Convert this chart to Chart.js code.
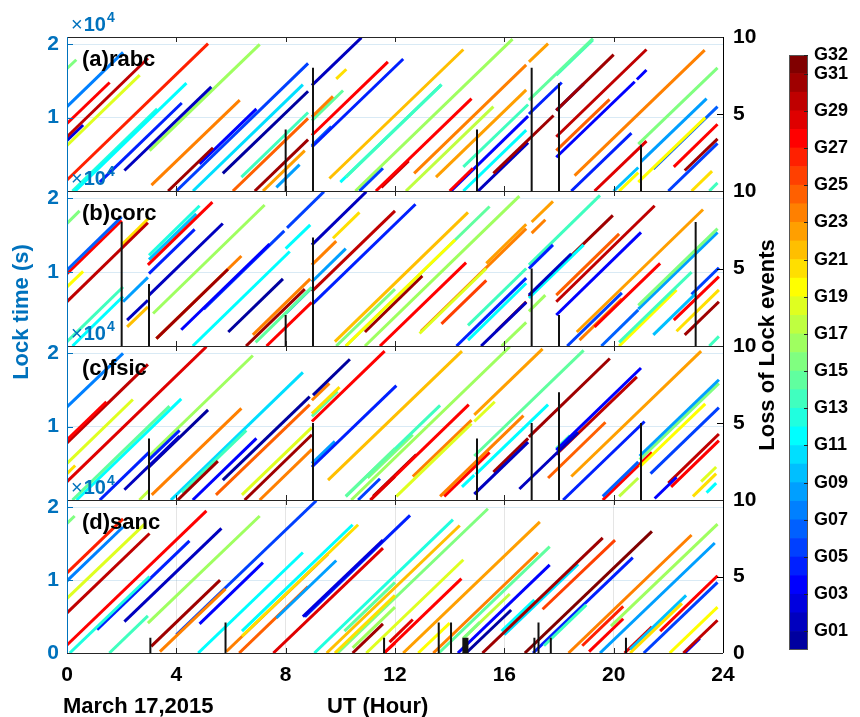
<!DOCTYPE html>
<html>
<head>
<meta charset="utf-8">
<script src="https://cdn.jsdelivr.net/npm/chart.js@4.4.1/dist/chart.umd.min.js"></script>
<style>
  body { margin: 0; background: #fff; }
  #wrap { position: relative; width: 860px; height: 717px; background: #fff; }
  #wrap canvas { position: absolute; left: 0; top: 0; }
</style>
</head>
<body>
<div id="wrap">
  <canvas id="pa" width="860" height="717"></canvas>
  <canvas id="pb" width="860" height="717"></canvas>
  <canvas id="pc" width="860" height="717"></canvas>
  <canvas id="pd" width="860" height="717"></canvas>
  <canvas id="cb" width="860" height="717"></canvas>
</div>
<script>
// station names and axis ticks
const stations = ['(a)rabc', '(b)corc', '(c)fsic', '(d)sanc'];
const hourTicks = [0, 4, 8, 12, 16, 20, 24];
const lockTicks = [0, 1, 2];          // x10^4 s
const eventTicks = [0, 5, 10];
const prnTicks = [1, 3, 5, 7, 9, 11, 13, 15, 17, 19, 21, 23, 25, 27, 29, 31, 32];

// lock segments: [prn, startHour, startLock(x1e4 s), endHour, endLock]
const segA = [
  [16,0,1.67,0.34,1.79],[8,0,1.15,2.05,1.89],[28,0,0.92,1.56,1.48],[30,0,0.74,2.96,1.81],
  [3,0,0.69,0.59,0.9],[19,0,0.62,2.66,1.58],[27,0,0.15,5.16,2.01],[12,0.3,0,4.37,1.47],
  [13,0.2,0,3.3,1.12],[5,1.2,0.12,4.2,1.2],[2,2.1,0.28,5.28,1.42],[17,3.02,0.55,7.05,2.0],
  [24,3.09,0.08,6.32,1.24],[31,3.7,0,5.34,0.59],[6,4.0,0,8.82,1.74],[11,4.61,0,8.63,1.45],
  [4,4.85,0.37,6.93,1.12],[1,5.7,0.24,8.82,1.36],[14,6.38,0.19,8.82,1.07],[25,6.07,0,8.82,0.99],
  [31,6.87,0,8.82,0.7],[23,7.17,0,8.7,0.55],[9,7.66,0.05,8.51,0.36],[2,8.96,1.44,10.77,2.09],
  [5,8.96,0.6,12.3,1.8],[28,8.96,0.76,11.74,1.76],[24,8.96,1.01,9.73,1.29],[21,9.85,1.53,10.22,1.66],
  [15,8.96,0.96,10.1,1.37],[7,8.96,0.62,9.67,0.88],[22,9.6,0.17,14.5,1.93],[14,10.2,0.19,13.7,1.45],
  [6,10.7,0,11.56,0.31],[28,11.3,0,14.8,1.26],[30,11.5,0.05,12.5,0.41],[12,10.0,0.12,13.7,1.45],
  [17,10.55,0,16.3,2.07],[18,12.4,0,15.6,1.15],[24,12.7,0.24,16.8,1.72],[23,13.5,0.19,16.8,1.38],
  [28,14.0,0,14.85,0.31],[4,14.05,0,16.87,1.02],[12,14.5,0,16.8,0.83],[14,14.5,0.33,16.87,1.18],
  [31,15.6,0.24,17.8,1.03],[2,15.04,0,16.87,0.66],[5,16.9,1.05,18.1,1.48],[15,16.9,1.24,19.24,2.08],
  [23,16.9,1.76,17.6,2.01],[14,17.9,1.58,19.24,2.06],[31,17.9,1.1,20.0,1.86],[30,17.9,0.74,21.2,1.93],
  [2,17.9,1.1,18.9,1.46],[25,17.9,0.55,19.85,1.25],[4,17.9,0.46,20.77,1.49],[4,20.85,1.52,21.2,1.65],
  [24,18.57,0.21,23.33,1.92],[5,18.45,0,20.65,0.79],[29,19.3,0,21.2,0.68],[10,20.0,0,20.9,0.32],
  [20,20.2,0,20.9,0.25],[16,20.9,0.64,23.8,1.68],[9,21.0,0.4,23.4,1.26],[20,20.9,0.12,23.35,1.0],
  [6,22.0,0,23.8,0.65],[28,22.2,0.33,23.8,0.91],[31,22.6,0.28,23.8,0.71],[21,22.85,0,23.6,0.27],
  [7,21.45,0.3,23.8,1.15],[14,23.5,0,23.8,0.11]
];
const segB = [
  [16,0,1.66,0.46,1.83],[7,0,1.03,2.0,1.75],[28,0,0.98,2.0,1.7],[20,0,0.8,0.59,1.01],
  [30,0,0.6,2.96,1.67],[21,2.0,1.37,2.96,1.72],[28,2.96,1.1,5.32,1.95],[14,0,0.06,2.05,0.8],
  [12,0.2,0,2.05,0.67],[9,2.05,0.6,2.96,0.93],[13,3.0,1.23,4.85,1.9],[10,3.0,1.17,4.73,1.79],
  [2,3.0,0.69,5.7,1.66],[5,3.0,0.98,4.67,1.58],[17,3.15,0.44,7.23,1.91],[2,2.2,0.35,2.96,0.62],
  [22,2.2,0.26,2.96,0.53],[31,3.27,0.1,5.89,1.04],[24,3.27,0.1,6.38,1.22],[4,4.18,0.22,7.41,1.38],
  [12,4.6,0,8.15,1.28],[1,5.9,0.19,7.9,0.91],[6,5.0,0.5,7.95,1.56],[6,8.05,1.6,9.4,2.09],
  [12,8.0,1.32,8.9,1.64],[24,6.8,0.15,8.9,0.91],[31,6.55,0,8.7,0.77],[28,7.3,0,8.95,0.59],
  [15,6.9,0.05,8.95,0.79],[9,8.0,0.44,8.96,0.79],[2,8.96,1.37,10.95,2.09],[21,9.73,1.46,10.7,1.81],
  [24,8.96,1.1,9.85,1.42],[9,8.96,0.87,10.2,1.32],[5,8.96,0.56,12.75,1.92],[30,8.96,0.74,12.0,1.83],
  [22,9.8,0.06,14.67,1.81],[20,10.2,0,14.2,1.44],[15,10.2,0,15.46,1.89],[17,10.9,0,16.55,2.03],
  [16,9.85,0,12.0,0.77],[31,10.9,0.19,13.0,0.95],[28,11.45,0,14.6,1.13],[19,12.9,0.17,15.34,1.05],
  [26,13.7,0.3,15.34,0.89],[24,12.95,0.2,16.8,1.59],[24,17.0,1.53,17.5,1.71],[23,17.0,1.68,17.78,1.96],
  [23,15.34,1.12,16.8,1.65],[14,14.67,0.28,16.8,1.05],[12,14.67,0.08,16.8,0.85],[5,14.25,0,16.8,0.92],
  [2,15.15,0,16.8,0.59],[31,15.7,0.2,16.8,0.6],[17,15.9,0,16.8,0.32],[5,16.9,1.05,17.78,1.37],
  [2,16.9,0.69,18.45,1.25],[12,16.9,0.65,18.9,1.37],[31,16.9,0.67,19.97,1.77],[14,16.9,1.1,19.5,2.04],
  [17,16.9,0.47,17.5,0.69],[30,17.9,0.6,21.5,1.9],[25,17.9,0.69,20.2,1.52],[4,17.9,0.42,21.0,1.54],
  [23,18.65,0.19,23.27,1.85],[6,18.3,0,20.3,0.72],[28,19.3,0.26,21.7,1.12],[24,18.75,0.08,20.3,0.64],
  [7,19.55,0,20.9,0.49],[16,20.9,0.55,23.8,1.59],[9,20.9,0.5,23.8,1.54],[14,20.2,0.05,22.85,1.0],
  [20,20.2,0,22.3,0.76],[10,21.45,0.15,23.0,0.71],[6,22.85,0.7,23.85,1.06],[28,22.2,0.35,23.85,0.94],
  [21,22.3,0.2,23.85,0.76],[31,22.6,0.15,23.85,0.6],[14,23.5,0,23.85,0.13]
];
const segC = [
  [8,0,1.27,2.05,2.0],[28,0,0.82,1.44,1.34],[29,0,0.25,5.1,2.09],[30,0,0.78,2.96,1.85],
  [19,0,0.5,2.41,1.37],[21,0,0.36,0.3,0.47],[15,0.2,0,3.75,1.28],[12,0.35,0,4.18,1.38],
  [2,2.1,0.14,4.12,0.87],[1,3.0,0.45,5.16,1.23],[5,1.2,0,3.0,0.65],[5,3.0,0.55,4.12,0.95],
  [18,2.65,0,3.0,0.13],[17,3.0,0.6,6.8,1.97],[24,3.1,0.07,6.38,1.25],[31,4.05,0,5.52,0.53],
  [14,4.2,0.1,6.56,0.95],[11,3.8,0,8.63,1.74],[4,4.6,0,6.93,0.84],[1,5.7,0.27,8.88,1.41],
  [1,9.0,1.43,10.35,1.92],[25,5.45,0.07,8.88,1.3],[19,6.4,0.07,8.96,0.99],[31,6.5,0,8.96,0.89],
  [24,7.05,0,8.96,0.69],[24,8.96,1.36,9.6,1.59],[21,8.96,1.18,9.97,1.54],[15,8.96,1.14,9.9,1.48],
  [28,8.96,1.07,11.62,2.03],[5,8.96,0.45,12.05,1.56],[9,8.96,0.5,9.8,0.8],[22,9.55,0.27,14.45,2.03],
  [15,10.2,0.05,12.0,0.7],[6,10.65,0,11.45,0.29],[29,11.1,0,12.0,0.32],[17,10.4,0,16.2,2.09],
  [14,10.2,0.05,13.65,1.29],[16,11.0,0.3,12.65,0.89],[28,11.1,0,14.7,1.3],[31,11.2,0.05,12.78,0.62],
  [19,12.05,0.05,14.8,1.04],[24,12.65,0.32,14.8,1.09],[23,14.9,1.16,17.4,2.06],[19,14.9,1.07,15.65,1.34],
  [24,13.65,0.05,16.7,1.15],[28,13.8,0.05,15.46,0.65],[12,14.45,0.18,14.9,0.34],[15,14.9,0.6,18.9,2.04],
  [12,14.95,0.35,17.6,1.3],[2,14.9,0.08,16.87,0.79],[31,15.6,0.38,16.87,0.84],[31,16.9,0.86,19.86,1.93],
  [2,16.55,0.15,18.7,0.92],[4,17.9,0.68,21.0,1.8],[30,17.9,0.62,20.85,1.68],[14,17.9,0.7,18.4,0.88],
  [25,17.6,0.3,19.7,1.06],[23,18.45,0.32,23.2,2.03],[5,18.15,0,21.13,1.07],[7,19.6,0.05,20.9,0.52],
  [9,20.95,0.6,23.85,1.64],[16,20.95,0.55,23.85,1.59],[20,20.95,0.45,23.35,1.31],[6,21.35,0.36,23.85,1.26],
  [28,19.6,0,21.4,0.65],[18,20.2,0.05,20.9,0.3],[4,21.5,0.02,22.3,0.31],[30,22.0,0.23,23.85,0.9],
  [28,22.1,0.18,23.85,0.81],[21,22.9,0.05,23.75,0.36],[19,23.2,0.25,23.75,0.45],[12,23.4,0.1,23.75,0.23]
];
const segD = [
  [16,0,1.78,0.28,1.88],[28,0,0.11,5.1,1.95],[27,0,1.1,2.05,1.84],[8,0,0.99,2.05,1.73],
  [19,0,0.75,2.84,1.77],[30,0,0.55,3.02,1.64],[13,0.1,0,3.02,1.05],[5,1.1,0.32,4.48,1.54],
  [2,2.1,0.43,5.65,1.71],[17,2.96,0.41,7.05,1.88],[14,1.55,0,2.96,0.51],[31,3.08,0.09,5.6,1.0],
  [24,3.4,0.02,5.8,0.88],[4,4.85,0.4,7.17,1.24],[6,4.0,0.25,9.12,2.09],[12,4.8,0,8.63,1.38],
  [12,6.4,0.3,10.45,1.76],[21,6.4,0.23,10.65,1.76],[9,7.66,0.48,9.85,1.27],[24,5.83,0.02,9.55,1.36],
  [25,6.3,0,8.82,0.91],[3,8.63,0.5,11.56,1.55],[29,7.55,0,11.56,1.44],[5,8.7,0.5,12.55,1.89],
  [15,10.15,0.3,12.0,0.97],[21,9.8,0,12.0,0.79],[17,10.45,0.07,12.0,0.63],[31,10.45,0,11.56,0.4],
  [28,11.6,0,12.0,0.14],[13,9.05,0,14.12,1.83],[22,9.5,0,14.37,1.75],[16,9.9,0,15.4,1.98],
  [19,10.95,0,14.5,1.28],[28,11.6,0,14.43,1.02],[29,11.8,0.15,12.65,0.46],[23,12.3,0,17.3,1.8],
  [20,12.85,0,14.0,0.41],[16,14.5,0.2,15.1,0.42],[24,13.4,0,17.23,1.38],[15,13.6,0,17.66,1.46],
  [1,14.6,0,16.25,0.59],[18,14.5,0.2,16.2,0.81],[4,14.3,0,17.66,1.21],[31,15.2,0,19.6,1.58],
  [12,15.9,0.3,17.1,0.73],[11,16.0,0.25,18.7,1.22],[14,17.45,0.1,19.0,0.66],[32,16.75,0,21.4,1.67],
  [5,17.05,0,20.7,1.31],[26,17.4,0.6,20.05,1.55],[27,18.85,0.1,20.35,0.64],[28,19.1,0.02,20.35,0.47],
  [24,18.35,0,22.85,1.62],[17,19.9,0.37,23.8,1.77],[9,19.5,0,23.7,1.51],[6,21.1,0,23.8,0.97],
  [28,21.7,0.3,23.8,1.06],[21,20.6,0,22.5,0.68],[10,20.6,0.05,22.65,0.79],[20,22.05,0,23.8,0.63],
  [30,22.55,0,23.8,0.45],[4,22.6,0,23.15,0.2],[29,20.4,0,21.4,0.36]
];

// loss of lock events: [hour, count]
const lolA = [[8,4],[9,8],[15,4],[17,8],[18,7],[21,3]];
const lolB = [[2,8],[3,4],[8,2],[9,7],[17,5],[18,2],[23,8]];
const lolC = [[3,4],[9,5],[15,4],[17,5],[18,7],[21,5]];
const lolD = [[3.05,1],[5.8,2],[11.6,1],[13.6,2],[14.05,2],[14.5,1],[14.55,1],[14.6,1],[14.65,1],
              [17.1,1],[17.25,2],[17.7,1],[20.45,1]];

// MATLAB-like jet colormap
function jet(m) {
  const n = Math.ceil(m / 4);
  const u = [];
  for (let i = 1; i <= n; i++) u.push(i / n);
  for (let i = 1; i < n; i++) u.push(1);
  for (let i = n; i >= 1; i--) u.push(i / n);
  const g0 = Math.ceil(n / 2) - (m % 4 === 1 ? 1 : 0);
  const cols = [];
  for (let i = 0; i < m; i++) cols.push([0, 0, 0]);
  u.forEach((val, k) => {
    const g = g0 + k + 1, r = g + n, b = g - n;
    if (r >= 1 && r <= m) cols[r - 1][0] = val;
    if (g >= 1 && g <= m) cols[g - 1][1] = val;
    if (b >= 1 && b <= m) cols[b - 1][2] = val;
  });
  return cols.map(c => 'rgb(' + c.map(v => Math.round(v * 255)).join(',') + ')');
}
const colors = jet(32);

const BLUE = '#0072BD';
const FONT = '"Liberation Sans", Arial, Helvetica, sans-serif';
Chart.defaults.font.family = FONT;

// panel placement (top / bottom of each plot box)
const boxTop = [37, 191, 346, 500];
const boxBot = [191, 346, 500, 653];

function decoPlugin(idx) {
  return {
    id: 'deco' + idx,
    afterDraw(chart) {
      const { ctx, chartArea: a, scales } = chart;
      ctx.save();
      ctx.lineWidth = 1;
      // inward ticks
      ctx.strokeStyle = '#262626';
      hourTicks.forEach(v => {
        const x = Math.round(scales.x.getPixelForValue(v)) + 0.5;
        ctx.beginPath();
        ctx.moveTo(x, a.bottom); ctx.lineTo(x, a.bottom - 5);
        ctx.moveTo(x, a.top); ctx.lineTo(x, a.top + 5);
        ctx.stroke();
      });
      ctx.strokeStyle = BLUE;
      lockTicks.forEach(v => {
        const y = Math.round(scales.y.getPixelForValue(v)) + 0.5;
        ctx.beginPath(); ctx.moveTo(a.left, y); ctx.lineTo(a.left + 6, y); ctx.stroke();
      });
      ctx.strokeStyle = '#000';
      eventTicks.forEach(v => {
        const y = Math.round(scales.y2.getPixelForValue(v)) + 0.5;
        ctx.beginPath(); ctx.moveTo(a.right - 6, y); ctx.lineTo(a.right, y); ctx.stroke();
      });
      // box
      ctx.strokeStyle = '#262626';
      ctx.beginPath();
      ctx.moveTo(a.left, a.top + 0.5); ctx.lineTo(a.right, a.top + 0.5);
      ctx.moveTo(a.left, a.bottom + 0.5); ctx.lineTo(a.right, a.bottom + 0.5);
      ctx.stroke();
      ctx.strokeStyle = BLUE;
      ctx.beginPath(); ctx.moveTo(a.left + 0.5, a.top); ctx.lineTo(a.left + 0.5, a.bottom); ctx.stroke();
      ctx.strokeStyle = '#000';
      ctx.beginPath(); ctx.moveTo(a.right + 0.5, a.top); ctx.lineTo(a.right + 0.5, a.bottom); ctx.stroke();
      // station label
      ctx.fillStyle = '#000';
      ctx.font = 'bold 22px ' + FONT;
      ctx.textBaseline = 'alphabetic';
      ctx.textAlign = 'left';
      ctx.fillText(stations[idx], a.left + 15, a.top + 29);
      // x10^4 exponent label
      ctx.fillStyle = BLUE;
      let x = a.left + 4;
      const base = a.top - 6;
      ctx.font = '20px ' + FONT;
      ctx.fillText('\u00d7', x, base);
      x += ctx.measureText('\u00d7').width + 1;
      ctx.font = 'bold 20px ' + FONT;
      ctx.fillText('10', x, base);
      x += ctx.measureText('10').width + 1;
      ctx.font = 'bold 14px ' + FONT;
      ctx.fillText('4', x, base - 9);
      ctx.restore();
    }
  };
}

function makePanel(id, idx, segs, lol) {
  const last = idx === 3;
  const datasets = segs.map(s => ({
    data: [{ x: s[1], y: s[2] }, { x: s[3], y: s[4] }],
    borderColor: colors[s[0] - 1],
    borderWidth: 3,
    pointRadius: 0,
    yAxisID: 'y',
    order: 2
  }));
  const barPts = [];
  lol.forEach(b => {
    barPts.push({ x: b[0], y: 0 }, { x: b[0], y: b[1] }, { x: b[0], y: null });
  });
  datasets.push({
    data: barPts,
    borderColor: '#111',
    borderWidth: 2,
    pointRadius: 0,
    spanGaps: false,
    yAxisID: 'y2',
    order: 1
  });

  const tickFont = { family: FONT, size: 21, weight: 'bold' };
  new Chart(document.getElementById(id), {
    type: 'line',
    data: { datasets },
    options: {
      responsive: false,
      animation: false,
      events: [],
      layout: { padding: { top: boxTop[idx], bottom: last ? 0 : 717 - boxBot[idx], left: 0, right: 0 } },
      plugins: { legend: { display: false }, tooltip: { enabled: false } },
      scales: {
        x: {
          type: 'linear',
          display: last,
          min: 0, max: 24,
          afterBuildTicks: s => { s.ticks = hourTicks.map(v => ({ value: v })); },
          afterFit: s => { s.height = last ? 717 - boxBot[3] : 0; },
          grid: { color: 'rgba(0,0,0,0.10)', drawTicks: false },
          border: { display: false },
          ticks: { color: '#000', font: tickFont, padding: 10, maxRotation: 0 }
        },
        y: {
          position: 'left',
          min: 0, max: 2.1,
          afterBuildTicks: s => { s.ticks = lockTicks.map(v => ({ value: v })); },
          afterFit: s => { s.width = 67; },
          grid: { color: 'rgba(0,114,189,0.15)', drawTicks: false },
          border: { display: false },
          ticks: {
            color: BLUE, font: tickFont, padding: 8,
            callback: v => (v === 0 && !last) ? '' : String(v)
          }
        },
        y2: {
          position: 'right',
          min: 0, max: 10,
          afterBuildTicks: s => { s.ticks = eventTicks.map(v => ({ value: v })); },
          afterFit: s => { s.width = 137; },
          grid: { display: false, drawTicks: false },
          border: { display: false },
          ticks: {
            color: '#000', font: tickFont, padding: 10,
            callback: v => (v === 0 && !last) ? '' : String(v)
          }
        }
      }
    },
    plugins: [decoPlugin(idx)]
  });
}

makePanel('pa', 0, segA, lolA);
makePanel('pb', 1, segB, lolB);
makePanel('pc', 2, segC, lolC);
makePanel('pd', 3, segD, lolD);

// colour bar + figure labels
const prns = colors.map((c, i) => i + 1);
new Chart(document.getElementById('cb'), {
  type: 'bar',
  data: {
    labels: [''],
    datasets: prns.map(p => ({
      data: [[p - 1, p]],
      backgroundColor: colors[p - 1],
      borderWidth: 0,
      grouped: false,
      barPercentage: 1,
      categoryPercentage: 1
    }))
  },
  options: {
    responsive: false,
    animation: false,
    events: [],
    layout: { padding: { left: 789, top: 55, bottom: 717 - 650, right: 0 } },
    plugins: { legend: { display: false }, tooltip: { enabled: false } },
    scales: {
      x: { display: false },
      y: {
        position: 'right',
        min: 0, max: 32,
        afterBuildTicks: s => { s.ticks = prnTicks.map(v => ({ value: v })); },
        afterFit: s => { s.width = 860 - 808; },
        grid: { display: false, drawTicks: false },
        border: { display: false },
        ticks: {
          color: '#000', padding: 6,
          font: { family: FONT, size: 18, weight: 'bold' },
          callback: v => 'G' + String(v).padStart(2, '0')
        }
      }
    }
  },
  plugins: [{
    id: 'figText',
    afterDraw(chart) {
      const { ctx, chartArea: a, scales } = chart;
      ctx.save();
      ctx.strokeStyle = '#555';
      ctx.lineWidth = 1;
      ctx.strokeRect(a.left + 0.5, a.top + 0.5, a.right - a.left - 1, a.bottom - a.top - 1);
      ctx.strokeStyle = '#222';
      prnTicks.forEach(v => {
        const y = Math.round(scales.y.getPixelForValue(v)) + 0.5;
        ctx.beginPath(); ctx.moveTo(a.right - 4, y); ctx.lineTo(a.right, y); ctx.stroke();
      });
      ctx.font = 'bold 22px ' + FONT;
      ctx.textAlign = 'center';
      ctx.textBaseline = 'middle';
      ctx.fillStyle = BLUE;
      ctx.save(); ctx.translate(22, 312); ctx.rotate(-Math.PI / 2);
      ctx.fillText('Lock time (s)', 0, 0); ctx.restore();
      ctx.fillStyle = '#000';
      ctx.save(); ctx.translate(768, 345); ctx.rotate(-Math.PI / 2);
      ctx.fillText('Loss of Lock events', 0, 0); ctx.restore();
      ctx.textAlign = 'left';
      ctx.textBaseline = 'alphabetic';
      ctx.fillText('March 17,2015', 63, 713);
      ctx.fillText('UT (Hour)', 327, 713);
      ctx.restore();
    }
  }]
});
</script>
</body>
</html>
